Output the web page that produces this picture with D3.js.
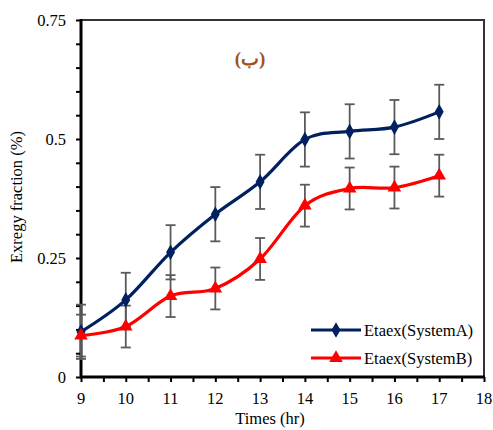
<!DOCTYPE html>
<html><head><meta charset="utf-8">
<script src="https://cdn.jsdelivr.net/npm/d3@7/dist/d3.min.js"></script>
</head><body style="margin:0;background:#fff">
<svg id="c" width="493" height="430" style="display:block"></svg>
<script>
const hours = [9,10,11,12,13,14,15,16,17];
const systemA = [0.095,0.162,0.262,0.342,0.410,0.499,0.516,0.525,0.557];
const systemB = [0.087,0.106,0.170,0.186,0.248,0.360,0.396,0.398,0.423];
const errA = [0.057,0.057,0.057,0.057,0.057,0.057,0.057,0.057,0.057];
const errB = [0.044,0.044,0.044,0.044,0.044,0.044,0.044,0.044,0.044];
const xTicks = [9,10,11,12,13,14,15,16,17,18];
const yTicks = [0,0.25,0.5,0.75];
const yTickLabels = ["0","0.25","0.5","0.75"];
const seriesNames = ["Etaex(SystemA)","Etaex(SystemB)"];

const FONT = "Liberation Serif";
const FS = 16.5;
const svg = d3.select("#c");
const L=81,R=484,T=20,B=377;
const x = d3.scaleLinear().domain([9,18]).range([L,R]);
const y = d3.scaleLinear().domain([0,0.75]).range([B,T]);

// frame top/right
svg.append("path").attr("d",`M${L},${T}H${R}V${B}`).attr("fill","none").attr("stroke","#333").attr("stroke-width",2);

// ticks (minor + major) via axes without labels
const gx = svg.append("g").attr("transform",`translate(0,${B})`)
  .call(d3.axisBottom(x).tickValues(d3.range(9,18.01,0.5)).tickSize(5).tickFormat(""));
gx.select(".domain").remove();
gx.selectAll("text").remove();
gx.selectAll("line").attr("stroke","#000").attr("stroke-width",2);
const gy = svg.append("g").attr("transform",`translate(${L},0)`)
  .call(d3.axisLeft(y).tickValues(d3.range(0,0.7501,0.05)).tickSize(5).tickFormat(""));
gy.select(".domain").remove();
gy.selectAll("text").remove();
gy.selectAll("line").attr("stroke","#000").attr("stroke-width",2);

// tick labels as plain texts positioned by scales
svg.append("g").selectAll("text").data(xTicks).join("text")
  .attr("x",d=>x(d)).attr("y",B+27).attr("text-anchor","middle")
  .attr("font-family",FONT).attr("font-size",FS).attr("fill","#000").text(d=>d);
svg.append("g").selectAll("text").data(yTicks).join("text")
  .attr("x",L-15).attr("y",d=>y(d)+6).attr("text-anchor","end")
  .attr("font-family",FONT).attr("font-size",FS).attr("fill","#000").text((d,i)=>yTickLabels[i]);

// axes lines
svg.append("path").attr("d",`M${L},${T-1}V${B}H${R+1}`).attr("fill","none").attr("stroke","#000").attr("stroke-width",3);

// axis titles
svg.append("text").attr("x",270).attr("y",424).attr("text-anchor","middle").attr("font-size",FS).attr("font-family",FONT).text("Times (hr)");
svg.append("text").attr("transform","translate(22,197) rotate(-90)").attr("text-anchor","middle").attr("font-size",FS).attr("font-family",FONT).text("Exregy fraction (%)");

// panel label
svg.append("text").attr("x",250).attr("y",65).attr("text-anchor","middle").attr("font-size",19).attr("font-weight","bold").attr("fill","#A0521B").attr("font-family",FONT).text("(ب)");

const line = d3.line().x((d,i)=>x(hours[i])).y(d=>y(d)).curve(d3.curveCatmullRom.alpha(0));
const colors=["#002060","#FF0000"];
const series=[systemA,systemB], errs=[errA,errB];

// error bars
series.forEach((s,k)=>{
  const g=svg.append("g").attr("stroke","#5a5a5a").attr("stroke-width",1.8);
  s.forEach((v,i)=>{
    const cx=x(hours[i]), y1=y(v+errs[k][i]), y2=y(v-errs[k][i]);
    g.append("line").attr("x1",cx).attr("x2",cx).attr("y1",y1).attr("y2",y2);
    g.append("line").attr("x1",cx-5).attr("x2",cx+5).attr("y1",y1).attr("y2",y1);
    g.append("line").attr("x1",cx-5).attr("x2",cx+5).attr("y1",y2).attr("y2",y2);
  });
});
const diamond=d3.symbol().type(d3.symbolDiamond).size(70);
const tri=d3.symbol().type(d3.symbolTriangle).size(80);
series.forEach((s,k)=>{
  svg.append("path").attr("d",line(s)).attr("fill","none").attr("stroke",colors[k]).attr("stroke-width",3.2);
  svg.append("g").selectAll("path").data(s).join("path")
    .attr("transform",(d,i)=>`translate(${x(hours[i])},${y(d)})`)
    .attr("d",k===0?diamond:tri).attr("fill",colors[k]);
});

// legend
const legY=[330,358];
legY.forEach((ly,k)=>{
  svg.append("line").attr("x1",311).attr("x2",361).attr("y1",ly).attr("y2",ly).attr("stroke",colors[k]).attr("stroke-width",3.2);
  svg.append("path").attr("transform",`translate(336,${ly})`).attr("d",k===0?diamond:tri).attr("fill",colors[k]);
  svg.append("text").attr("x",364).attr("y",ly+6).attr("font-size",FS).attr("font-family",FONT).text(seriesNames[k]);
});
</script></body></html>
